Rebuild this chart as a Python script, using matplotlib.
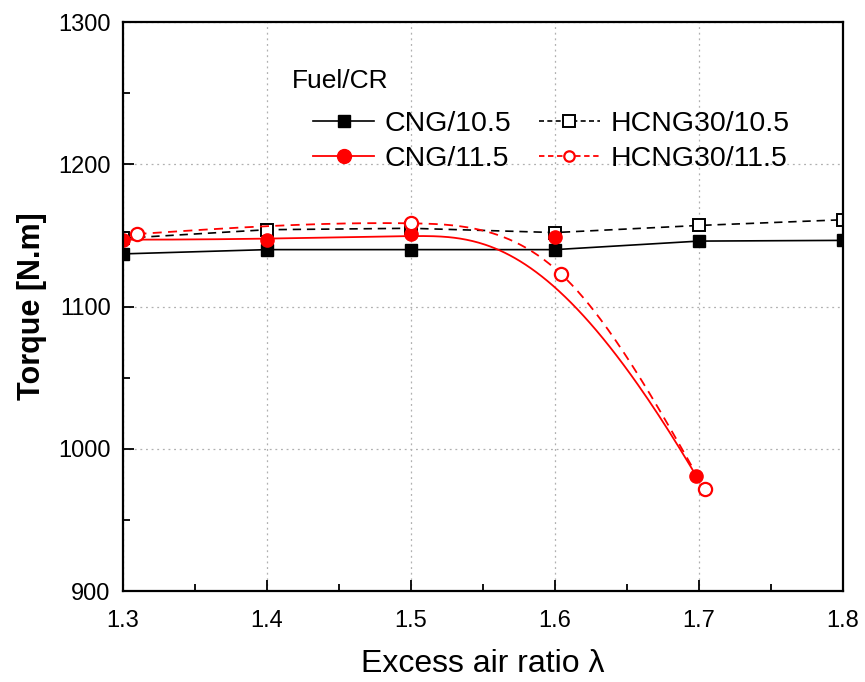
import numpy as np
import matplotlib
matplotlib.use('Agg')
import matplotlib.pyplot as plt
from matplotlib.ticker import MultipleLocator, FormatStrFormatter
from matplotlib.lines import Line2D

plt.rcParams['font.family'] = ['Liberation Sans', 'DejaVu Sans']

# ---------------------------
# Data
# ---------------------------
lam_cng105 = [1.3, 1.4, 1.5, 1.6, 1.7, 1.8]
tq_cng105 = [1137, 1140, 1140, 1140, 1146, 1146.5]

lam_h30_105 = [1.3, 1.4, 1.5, 1.6, 1.7, 1.8]
tq_h30_105 = [1148, 1154, 1155, 1152, 1157, 1161]

lam_cng115 = [1.3, 1.4, 1.5, 1.6, 1.698]
tq_cng115 = [1147, 1147, 1151, 1149, 981]

lam_h30_115 = [1.31, 1.5, 1.604, 1.704]
tq_h30_115 = [1151, 1158.5, 1123, 971.5]

labels = ['CNG/10.5', 'CNG/11.5', 'HCNG30/10.5', 'HCNG30/11.5']


def bspline(px, py, n=300):
    # clamped cubic B-spline on the points (Origin-style "B-Spline" line)
    px = np.asarray(px, float)
    py = np.asarray(py, float)
    k = 3
    m = len(px)
    knots = np.concatenate([[0] * k, np.arange(m - k + 1), [m - k] * k]).astype(float)
    t = np.linspace(0, m - k, n)
    t[-1] -= 1e-9
    N = np.zeros((n, len(knots) - 1))
    for i in range(len(knots) - 1):
        N[:, i] = (knots[i] <= t) & (t < knots[i + 1])
    for d in range(1, k + 1):
        Nn = np.zeros((n, len(knots) - 1 - d))
        for i in range(len(knots) - 1 - d):
            a = knots[i + d] - knots[i]
            b = knots[i + d + 1] - knots[i + 1]
            term = np.zeros(n)
            if a > 0:
                term += (t - knots[i]) / a * N[:, i]
            if b > 0:
                term += (knots[i + d + 1] - t) / b * N[:, i + 1]
            Nn[:, i] = term
        N = Nn
    return N @ px, N @ py


def natural_spline(x, y, n=300):
    x = np.asarray(x, float)
    y = np.asarray(y, float)
    m = len(x)
    h = np.diff(x)
    A = np.zeros((m, m))
    r = np.zeros(m)
    A[0, 0] = A[-1, -1] = 1
    for i in range(1, m - 1):
        A[i, i - 1] = h[i - 1]
        A[i, i] = 2 * (h[i - 1] + h[i])
        A[i, i + 1] = h[i]
        r[i] = 6 * ((y[i + 1] - y[i]) / h[i] - (y[i] - y[i - 1]) / h[i - 1])
    M = np.linalg.solve(A, r)
    xs = np.linspace(x[0], x[-1], n)
    idx = np.clip(np.searchsorted(x, xs) - 1, 0, m - 2)
    x0, x1 = x[idx], x[idx + 1]
    hh = x1 - x0
    a = (x1 - xs) / hh
    b = (xs - x0) / hh
    ys = a * y[idx] + b * y[idx + 1] + ((a ** 3 - a) * M[idx] + (b ** 3 - b) * M[idx + 1]) * hh ** 2 / 6
    return xs, ys


# ---------------------------
# Plotting
# ---------------------------
fig = plt.figure(figsize=(8.65, 6.82), dpi=100)
ax = fig.add_axes([0.1422, 0.1334, 0.8324, 0.8343])

red = '#ff0000'
dash = (0, (5, 3.5))

ax.plot(lam_cng105, tq_cng105, color='black', lw=1.2, marker='s', ms=8,
        mfc='black', mec='black')
ax.plot(lam_h30_105, tq_h30_105, color='black', lw=1.2, ls=dash, marker='s', ms=8,
        mfc='white', mec='black', mew=1.4)

sx, sy = bspline(lam_cng115, tq_cng115)
ax.plot(sx, sy, color=red, lw=1.3)
ax.plot(lam_cng115, tq_cng115, ls='none', marker='o', ms=9.5, mfc=red, mec=red)

dx, dy = natural_spline(lam_h30_115, tq_h30_115)
ax.plot(dx, dy, color=red, lw=1.3, ls=dash)
ax.plot(lam_h30_115, tq_h30_115, ls='none', marker='o', ms=9.5, mfc='white', mec=red, mew=1.6)

ax.set_xlim(1.3, 1.8)
ax.set_ylim(900, 1300)
ax.xaxis.set_major_locator(MultipleLocator(0.1))
ax.xaxis.set_minor_locator(MultipleLocator(0.05))
ax.yaxis.set_major_locator(MultipleLocator(100))
ax.yaxis.set_minor_locator(MultipleLocator(50))
ax.xaxis.set_major_formatter(FormatStrFormatter('%.1f'))
ax.tick_params(which='both', direction='in', width=1.3, labelsize=17)
ax.tick_params(axis='x', pad=14)
ax.tick_params(axis='y', pad=9)
ax.tick_params(which='major', length=8)
ax.tick_params(which='minor', length=5)
for s in ax.spines.values():
    s.set_linewidth(1.6)
ax.grid(True, which='major', ls=(0, (1.5, 3)), color='#b0b0b0', lw=0.9)

ax.set_xlabel('Excess air ratio λ', fontsize=23, labelpad=12)
ax.set_ylabel('Torque [N.m]', fontsize=22, fontweight='bold', labelpad=8)

# legend
h1 = Line2D([], [], color='black', lw=1.2, marker='s', ms=8, mfc='black', mec='black')
h2 = Line2D([], [], color=red, lw=1.3, marker='o', ms=10, mfc=red, mec=red)
h3 = Line2D([], [], color='black', lw=1.2, ls=(0, (3, 2)), marker='s', ms=8,
            mfc='white', mec='black', mew=1.4)
h4 = Line2D([], [], color=red, lw=1.3, ls=(0, (3, 2)), marker='o', ms=7.5,
            mfc='white', mec=red, mew=1.6)
fig.text(292 / 865, 1 - 81 / 682, 'Fuel/CR', fontsize=19, va='center', ha='left')
fig.legend([h1, h2, h3, h4], labels,
           ncol=2, loc='upper left', bbox_to_anchor=(313 / 865, 1 - 111 / 682),
           frameon=False, fontsize=20.5, borderpad=0, borderaxespad=0,
           handlelength=2.15, handletextpad=0.37, columnspacing=0.95, labelspacing=0.33)

fig.savefig('out.png', dpi=100)
